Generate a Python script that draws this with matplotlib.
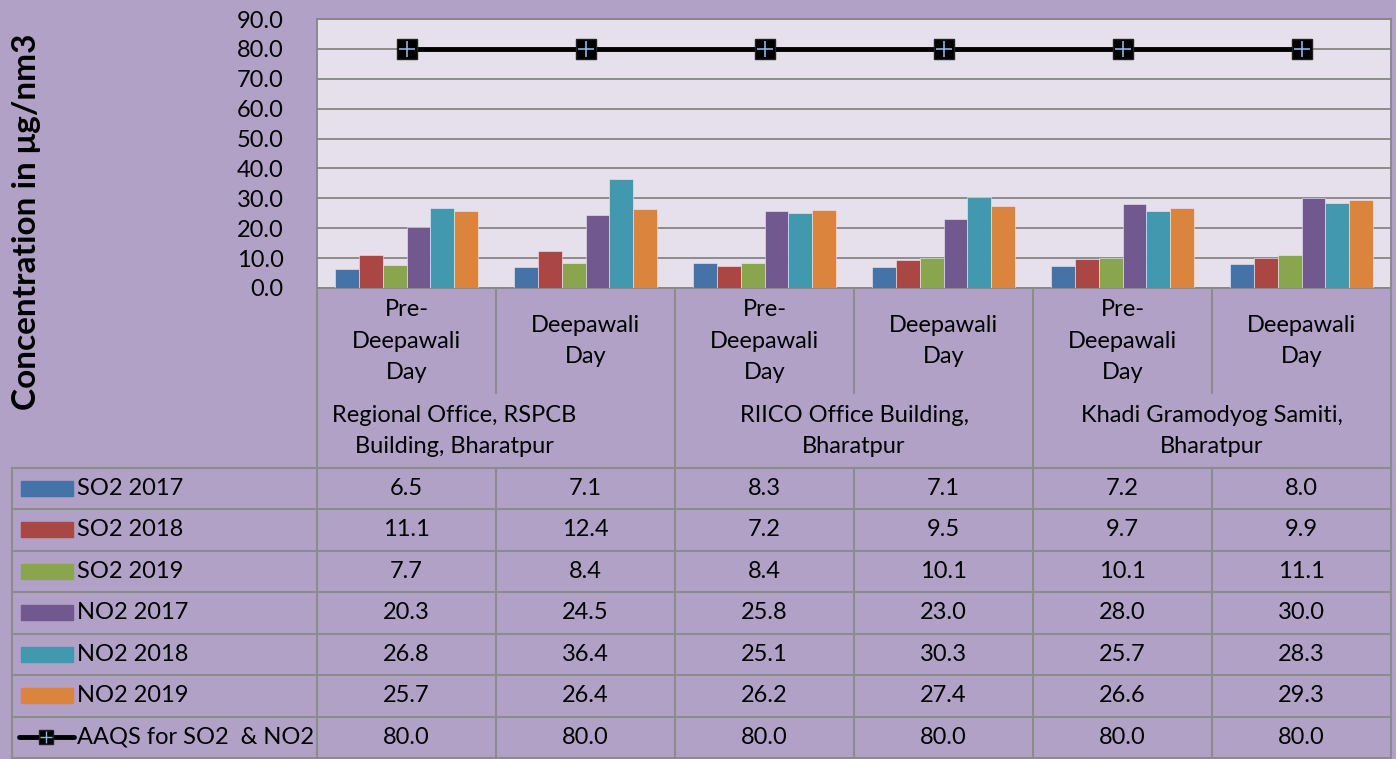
import numpy as np
import matplotlib
matplotlib.use('Agg')
import matplotlib.pyplot as plt

# data
days = ['Pre-\nDeepawali\nDay', 'Deepawali\nDay'] * 3
locations = ['Regional Office, RSPCB\nBuilding, Bharatpur',
             'RIICO Office Building,\nBharatpur',
             'Khadi Gramodyog Samiti,\nBharatpur']
series_names = ['SO2 2017', 'SO2 2018', 'SO2 2019', 'NO2 2017', 'NO2 2018', 'NO2 2019']
so2_2017 = [6.5, 7.1, 8.3, 7.1, 7.2, 8.0]
so2_2018 = [11.1, 12.4, 7.2, 9.5, 9.7, 9.9]
so2_2019 = [7.7, 8.4, 8.4, 10.1, 10.1, 11.1]
no2_2017 = [20.3, 24.5, 25.8, 23.0, 28.0, 30.0]
no2_2018 = [26.8, 36.4, 25.1, 30.3, 25.7, 28.3]
no2_2019 = [25.7, 26.4, 26.2, 27.4, 26.6, 29.3]
aaqs_name = 'AAQS for SO2  & NO2'
aaqs = [80.0, 80.0, 80.0, 80.0, 80.0, 80.0]
yticks = np.arange(0, 91, 10)

series = [so2_2017, so2_2018, so2_2019, no2_2017, no2_2018, no2_2019]
colors = ['#4572A7', '#AA4643', '#89A54E', '#71588F', '#4198AF', '#DB843D']

BG = '#B1A1C7'
PLOT_BG = '#E5E0EC'
GRID = '#868686'
FONT = 'Lato'
FS = 17

W, H = 1396, 759
fig = plt.figure(figsize=(W / 100, H / 100), dpi=100, facecolor=BG)

# plot area in pixels
px_l, px_r, px_t, px_b = 317, 1391, 19, 288
ax = fig.add_axes([px_l / W, 1 - px_b / H, (px_r - px_l) / W, (px_b - px_t) / H])
ax.set_facecolor(PLOT_BG)

n = len(days)
x = np.arange(n)
bw = 0.133
for i, (vals, c) in enumerate(zip(series, colors)):
    ax.bar(x + (i - 2.5) * bw, vals, width=bw, color=c,
           edgecolor='#F0ECF5', linewidth=0.4, zorder=3)

ax.plot(x, aaqs, color='black', lw=3.5, zorder=4)
ax.plot(x, aaqs, ls='none', marker='s', ms=14, mfc='black', mec='#202020', zorder=5)
ax.plot(x, aaqs, ls='none', marker='+', ms=11, mew=1.2, color='#8DB4E2', zorder=6)

ax.set_xlim(-0.5, n - 0.5)
ax.set_ylim(0, 90)
ax.set_yticks(yticks)
ax.set_yticklabels([f'{v:.1f}' for v in yticks], fontsize=FS, family=FONT)
ax.tick_params(axis='y', length=0, pad=24)
ax.set_xticks([])
ax.grid(axis='y', color=GRID, lw=1.3, zorder=1)
for s in ax.spines.values():
    s.set_color(GRID)
    s.set_linewidth(1.3)

fig.text(27 / W, 1 - 222 / H, 'Concentration in μg/nm3', rotation=90,
         ha='center', va='center', fontsize=24, fontweight='bold', family=FONT)

# overlay for the data table
ov = fig.add_axes([0, 0, 1, 1])
ov.set_xlim(0, W)
ov.set_ylim(H, 0)
ov.axis('off')
ov.patch.set_alpha(0)

cols = np.linspace(px_l, px_r, n + 1)
tab_left = 12
split_y = 393
tab_top = 467.5
row_h = 41.5
n_rows = len(series) + 1
tab_bot = tab_top + n_rows * row_h
lk = dict(color='#8C8C8C', lw=1.5)

# category header lines
for j, cx in enumerate(cols):
    if j % 2 == 0:
        ov.plot([cx, cx], [px_b, tab_bot], **lk)
    else:
        ov.plot([cx, cx], [px_b, split_y], **lk)
        ov.plot([cx, cx], [tab_top, tab_bot], **lk)
ov.plot([tab_left, tab_left], [tab_top, tab_bot], **lk)
for r in range(n_rows + 1):
    y = tab_top + r * row_h
    ov.plot([tab_left, px_r], [y, y], **lk)

# category labels
for j, lab in enumerate(days):
    ov.text((cols[j] + cols[j + 1]) / 2, 341, lab, ha='center', va='center',
            fontsize=FS, family=FONT, linespacing=1.6)
loc_x = [454, 854, 1212]
for lab, lx in zip(locations, loc_x):
    ov.text(lx, 431, lab, ha='center', va='center', fontsize=FS, family=FONT,
            linespacing=1.6)

# table rows
for r, (name, vals, c) in enumerate(zip(series_names, series, colors)):
    yc = tab_top + (r + 0.5) * row_h
    ov.add_patch(plt.Rectangle((21, yc - 7.5), 52, 15, color=c))
    ov.text(77, yc, name, ha='left', va='center', fontsize=FS, family=FONT)
    for j, v in enumerate(vals):
        ov.text((cols[j] + cols[j + 1]) / 2, yc, f'{v:.1f}', ha='center',
                va='center', fontsize=FS, family=FONT)

yc = tab_top + (n_rows - 0.5) * row_h
ov.plot([19, 74], [yc, yc], color='black', lw=3.5, solid_capstyle='round')
ov.plot([46], [yc], marker='s', ms=10, mfc='black', mec='#202020')
ov.plot([46], [yc], marker='+', ms=8, mew=1, color='#8DB4E2')
ov.text(77, yc, aaqs_name, ha='left', va='center', fontsize=FS, family=FONT)
for j, v in enumerate(aaqs):
    ov.text((cols[j] + cols[j + 1]) / 2, yc, f'{v:.1f}', ha='center',
            va='center', fontsize=FS, family=FONT)

fig.savefig('out.png', dpi=100, facecolor=BG)
